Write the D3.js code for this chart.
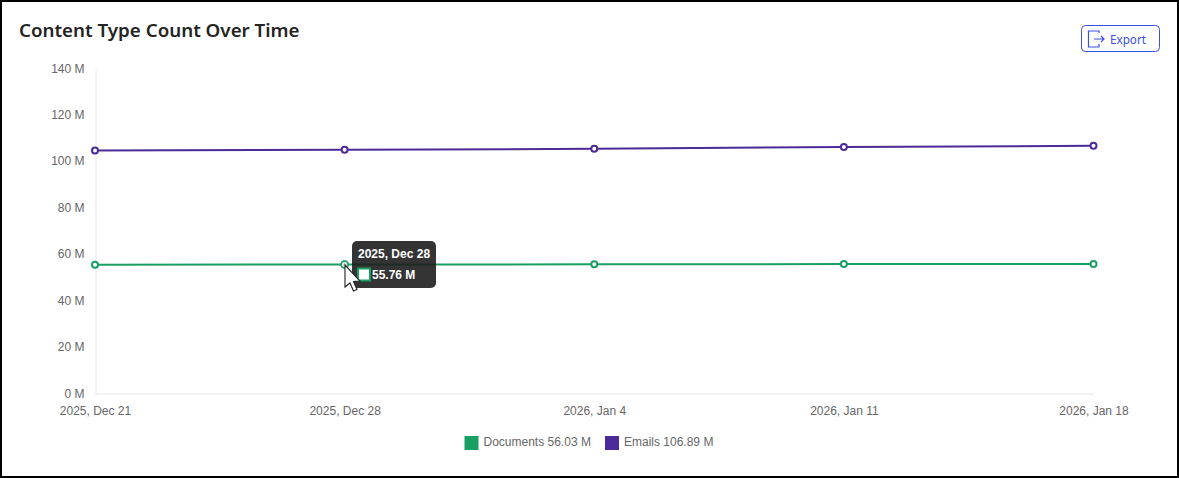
<!DOCTYPE html>
<html><head><meta charset="utf-8">
<script src="https://cdn.jsdelivr.net/npm/d3@7"></script>
<style>html,body{margin:0;padding:0;background:#fff}svg{display:block}</style>
</head><body><svg id="c" width="1179" height="478"></svg>
<script>
const categories = ["2025, Dec 21","2025, Dec 28","2026, Jan 4","2026, Jan 11","2026, Jan 18"];
const documents = [55.7,55.76,55.85,55.95,56.03];
const emails = [104.9,105.2,105.6,106.4,106.89];
const yTicks = [0,20,40,60,80,100,120,140];
const seriesNames = ["Documents","Emails"];
const legendValues = ["56.03 M","106.89 M"];
const colors = ["#1a9f62","#4c2a97"];
const tooltipDate = "2025, Dec 28";
const tooltipValue = "55.76 M";
const title = "Content Type Count Over Time";

const svg = d3.select("#c");
const F = "Liberation Sans, Arial, sans-serif";
svg.append("rect").attr("x",1).attr("y",1).attr("width",1177).attr("height",476).attr("fill","#fff").attr("stroke","#000").attr("stroke-width",2);
svg.append("text").attr("x",19).attr("y",36.5).attr("font-family","Noto Sans, sans-serif").attr("font-weight",600).attr("font-size",18.75).attr("fill","#242424").text(title);

const x = d3.scalePoint().domain(categories).range([95,1093.5]);
const y = d3.scaleLinear().domain([0,140]).range([394,69]);

const ax = svg.append("g").attr("transform","translate(0,393.5)").call(d3.axisBottom(x).tickSize(0).tickPadding(13));
ax.select(".domain").attr("stroke","#e6e6e6");
ax.selectAll("text").attr("font-family",F).attr("font-size",12).attr("fill","#666");
const ay = svg.append("g").attr("transform","translate(95.5,0)").call(d3.axisLeft(y).tickValues(yTicks).tickFormat(d=>d+" M").tickSize(0).tickPadding(11));
ay.select(".domain").attr("stroke","#e6e6e6");
ay.selectAll("text").attr("font-family",F).attr("font-size",12).attr("fill","#666").attr("transform","translate(0,-0.8)");

const line = d3.line().x((d,i)=>x(categories[i])).y(d=>y(d));
[documents,emails].forEach((vals,k)=>{
  svg.append("path").datum(vals).attr("d",line).attr("fill","none").attr("stroke",colors[k]).attr("stroke-width",2);
  svg.append("g").selectAll("circle").data(vals).join("circle")
    .attr("cx",(d,i)=>x(categories[i])).attr("cy",d=>y(d)).attr("r",3)
    .attr("fill","#fff").attr("stroke",colors[k]).attr("stroke-width",2);
});

// legend
const lg = svg.append("g").attr("font-family",F).attr("font-size",12).attr("fill","#666");
[[464.5,483.5],[605,624]].forEach((p,i)=>{
  lg.append("rect").attr("x",p[0]).attr("y",436).attr("width",14).attr("height",14).attr("fill",colors[i]);
  lg.append("text").attr("x",p[1]).attr("y",446).text(seriesNames[i]+" "+legendValues[i]);
});

// export button
const b = svg.append("g");
b.append("rect").attr("x",1081.5).attr("y",25.5).attr("width",78).attr("height",26).attr("rx",4).attr("fill","#fff").attr("stroke","#3d4fe0");
b.append("path").attr("d","M1099 33V31H1088.5V47H1099V44M1094 39H1104M1101 36L1104 39L1101 42").attr("fill","none").attr("stroke","#3d4fe0").attr("stroke-width",1.2);
b.append("text").attr("x",1110).attr("y",44).attr("font-family","Noto Sans, sans-serif").attr("font-size",11.7).attr("fill","#3d4fe0").text("Export");

// tooltip
const tx = x(categories[1]);
const tp = svg.append("g");
tp.append("rect").attr("x",352).attr("y",241).attr("width",84).attr("height",47).attr("rx",5).attr("fill","#1e1e1e").attr("opacity",0.9);
tp.append("text").attr("x",358).attr("y",258).attr("font-family",F).attr("font-weight",700).attr("font-size",12).attr("fill","#fff").text(tooltipDate);
tp.append("rect").attr("x",358).attr("y",268.5).attr("width",12).attr("height",12).attr("fill","#fff").attr("stroke",colors[0]).attr("stroke-width",2);
tp.append("text").attr("x",372).attr("y",278.5).attr("font-family",F).attr("font-weight",700).attr("font-size",12).attr("fill","#fff").text(tooltipValue);
svg.append("circle").attr("cx",tx).attr("cy",y(documents[1])).attr("r",3.5).attr("fill","#ddd").attr("stroke",colors[0]).attr("stroke-width",1.5);

// mouse cursor
svg.append("path").attr("d","M345 265V287L350 283L353.5 291L357 289.5L353.5 281.5L360 281Z").attr("fill","#fff").attr("stroke","#222").attr("stroke-width",1.1);
</script></body></html>
